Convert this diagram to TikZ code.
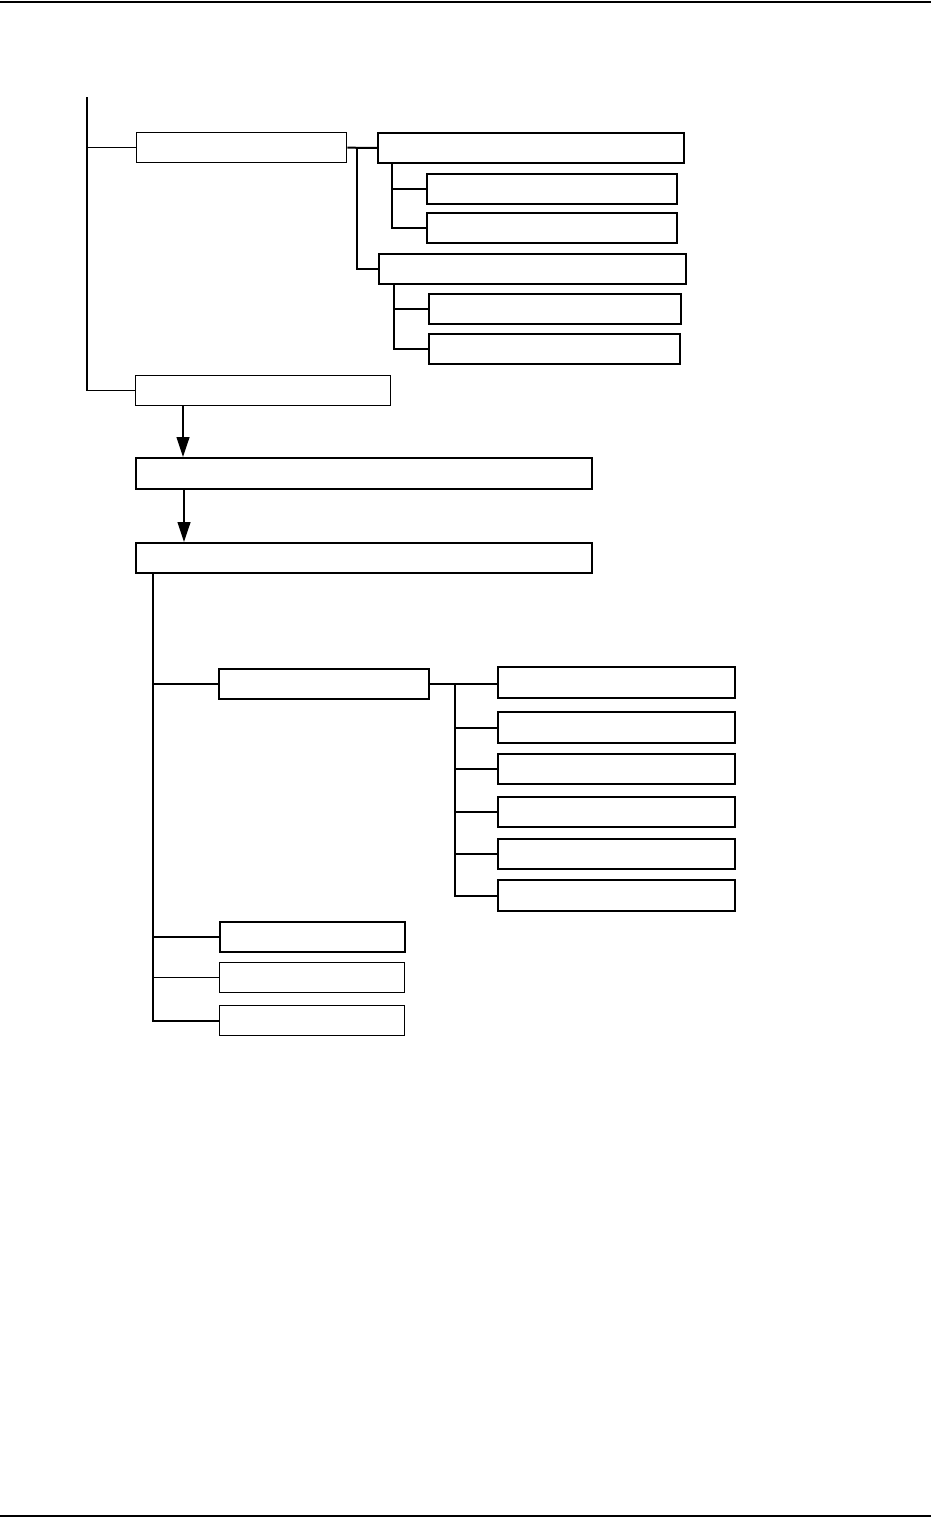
\documentclass[tikz,border=0pt]{standalone}
\usetikzlibrary{arrows.meta}

\begin{document}
\begin{tikzpicture}[x=1pt, y=-1pt,
    box/.style={draw, line width=2pt, anchor=north west, inner sep=0pt, minimum height=30pt},
    thinbox/.style={box, line width=1.3pt},
    link/.style={line width=1.2pt},
    trunk/.style={line width=2pt},
    flow/.style={line width=1.2pt, -{Triangle[length=20pt,width=13pt]}}
]
    \useasboundingbox (0,0) rectangle (931,1518);

    % Page rules
    \draw[line width=2pt] (0,2) -- (931,2);
    \draw[line width=2pt] (0,1516) -- (931,1516);

    % Upper tree
    \node[thinbox, minimum width=210pt] (a) at (136,132) {};
    \node[box, minimum width=306pt] (b) at (377,132) {};
    \node[box, minimum width=250pt] (ba) at (426,173) {};
    \node[box, minimum width=250pt] (bb) at (426,212) {};
    \node[box, minimum width=307pt] (e) at (378,253) {};
    \node[box, minimum width=252pt] (ea) at (428,293) {};
    \node[box, minimum width=251pt] (eb) at (428,333) {};
    \node[thinbox, minimum width=255pt] (h) at (135,375) {};

    \coordinate (root) at (87,97);
    \draw[link] (root) |- (h.west);
    \draw[link] (root |- a.west) -- (a.west);

    \draw[trunk] (a.east) -- (b.west);
    \draw[trunk] (a.east) ++(10,0) |- (e.west);
    \draw[trunk] (b.south west) ++(15,0) |- (bb.west);
    \draw[trunk] (b.south west) ++(15,0) |- (ba.west);
    \draw[trunk] (e.south west) ++(16,0) |- (eb.west);
    \draw[link] (e.south west) ++(16,0) |- (ea.west);

    % Main flow
    \node[box, line width=2.4pt, minimum width=456pt, minimum height=31pt] (i) at (135,457) {};
    \node[box, line width=2.4pt, minimum width=456pt] (j) at (135,542) {};

    \coordinate (ar1) at (183,405);
    \draw[flow] (ar1) -- (ar1 |- i.north);
    \coordinate (ar2) at (184,490);
    \draw[flow] (ar2) -- (ar2 |- j.north);

    % Lower tree
    \node[box, minimum width=210pt] (k) at (218,668) {};
    \node[box, minimum width=237pt, minimum height=31pt] (l) at (497,666) {};
    \node[box, minimum width=237pt, minimum height=31pt] (m) at (497,711) {};
    \node[box, minimum width=237pt] (n) at (497,753) {};
    \node[box, minimum width=237pt] (o) at (497,796) {};
    \node[box, minimum width=237pt] (p) at (497,838) {};
    \node[box, minimum width=237pt, minimum height=31pt] (q) at (497,879) {};
    \node[box, minimum width=185pt] (r) at (219,921) {};
    \node[thinbox, minimum width=185pt] (s) at (219,962) {};
    \node[thinbox, minimum width=185pt] (t) at (219,1005) {};

    \draw[trunk] (j.south west) ++(18,0) |- (t.west);
    \draw[trunk] (j.south west) ++(18,0) |- (r.west);
    \draw[link] (j.south west) ++(18,0) |- (s.west);
    \draw[trunk] (j.south west) ++(18,0) |- (k.west);

    \draw[trunk] (k.east) -- (k.east -| l.west);
    \draw[trunk] (k.east) ++(25,0) |- (q.west);
    \draw[trunk] (k.east) ++(25,0) |- (m.west);
    \draw[link] (k.east) ++(25,0) |- (n.west);
    \draw[trunk] (k.east) ++(25,0) |- (o.west);
    \draw[trunk] (k.east) ++(25,0) |- (p.west);
\end{tikzpicture}
\end{document}
